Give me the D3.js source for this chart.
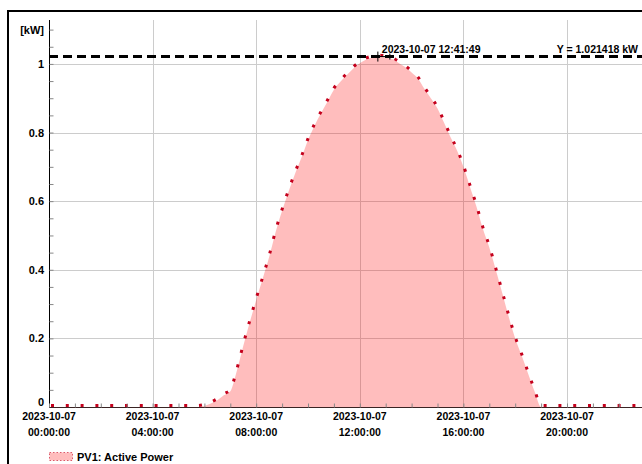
<!DOCTYPE html>
<html lang="en">
  <head>
    <meta charset="utf-8" />
    <title>PV1: Active Power</title>
    <style>
      body {
        margin: 0;
        background: #fff;
      }
      svg {
        display: block;
        font-family: 'Liberation Sans', Arial, sans-serif;
        font-weight: bold;
      }
      .grid line {
        stroke: #cccccc;
        stroke-width: 1;
      }
    </style>
    <script src="https://d3js.org/d3.v7.min.js"></script>
  </head>

  <body>
    <svg width="642" height="464"></svg>

    <script>
      // samples (kW)
      const times = [
        '2023-10-07 00:00:00', '2023-10-07 05:45:00', '2023-10-07 06:00:00',
        '2023-10-07 06:15:00', '2023-10-07 06:30:00', '2023-10-07 06:45:00',
        '2023-10-07 07:00:00', '2023-10-07 07:15:00', '2023-10-07 07:30:00',
        '2023-10-07 07:45:00', '2023-10-07 08:00:00', '2023-10-07 08:15:00',
        '2023-10-07 08:30:00', '2023-10-07 08:45:00', '2023-10-07 09:00:00',
        '2023-10-07 09:15:00', '2023-10-07 09:30:00', '2023-10-07 09:45:00',
        '2023-10-07 10:00:00', '2023-10-07 10:15:00', '2023-10-07 10:30:00',
        '2023-10-07 10:45:00', '2023-10-07 11:00:00', '2023-10-07 11:15:00',
        '2023-10-07 11:30:00', '2023-10-07 11:45:00', '2023-10-07 12:00:00',
        '2023-10-07 12:15:00', '2023-10-07 12:30:00', '2023-10-07 12:41:49',
        '2023-10-07 13:00:00', '2023-10-07 13:15:00', '2023-10-07 13:30:00',
        '2023-10-07 13:45:00', '2023-10-07 14:00:00', '2023-10-07 14:15:00',
        '2023-10-07 14:30:00', '2023-10-07 14:45:00', '2023-10-07 15:00:00',
        '2023-10-07 15:15:00', '2023-10-07 15:30:00', '2023-10-07 15:45:00',
        '2023-10-07 16:00:00', '2023-10-07 16:15:00', '2023-10-07 16:30:00',
        '2023-10-07 16:45:00', '2023-10-07 17:00:00', '2023-10-07 17:15:00',
        '2023-10-07 17:30:00', '2023-10-07 17:45:00', '2023-10-07 18:00:00',
        '2023-10-07 18:15:00', '2023-10-07 18:30:00', '2023-10-07 18:45:00',
        '2023-10-07 19:00:00', '2023-10-08 00:00:00',
      ];
      const power = [
        0, 0, 0.003,
        0.01, 0.02, 0.034,
        0.046, 0.105, 0.178,
        0.247, 0.312, 0.374,
        0.437, 0.51, 0.572,
        0.628, 0.68, 0.727,
        0.778, 0.82, 0.856,
        0.89, 0.925, 0.948,
        0.968, 0.987, 1.002,
        1.013, 1.019, 1.021418,
        1.019, 1.014, 1.003,
        0.991, 0.975, 0.957,
        0.927, 0.899, 0.87,
        0.829, 0.787, 0.748,
        0.7, 0.643, 0.585,
        0.52, 0.465, 0.4,
        0.332, 0.263, 0.2,
        0.15, 0.097, 0.045,
        0, 0,
      ];
      const yTicks = [0, 0.2, 0.4, 0.6, 0.8, 1];
      const seriesName = 'PV1: Active Power';
      const peakTime = '2023-10-07 12:41:49';
      const peakValue = 1.021418;

      const parse = d3.timeParse('%Y-%m-%d %H:%M:%S');
      const data = times.map((t, i) => ({ t: parse(t), v: power[i] }));

      const svg = d3.select('svg');
      const W = 642;
      const mLeft = 49,
        mTop = 20,
        mBottom = 407;

      const x = d3
        .scaleTime()
        .domain([parse('2023-10-07 00:00:00'), parse('2023-10-08 00:00:00')])
        .range([mLeft, mLeft + 24 * 25.9]);
      const y = d3.scaleLinear().domain([0, 1.128]).range([mBottom, mTop]);
      const majorX = x.ticks(d3.timeHour.every(4)).filter((d) => x(d) < W);

      svg
        .append('defs')
        .append('clipPath')
        .attr('id', 'plot')
        .append('rect')
        .attr('x', mLeft)
        .attr('y', mTop - 10)
        .attr('width', W - mLeft)
        .attr('height', mBottom - mTop + 12);

      // frame
      svg
        .append('rect')
        .attr('x', 8)
        .attr('y', 11)
        .attr('width', 700)
        .attr('height', 500)
        .attr('fill', 'none')
        .attr('stroke', '#000')
        .attr('stroke-width', 2);

      // grid
      const grid = svg.append('g').attr('class', 'grid');
      grid
        .selectAll('.gy')
        .data(yTicks.slice(1))
        .join('line')
        .attr('x1', mLeft)
        .attr('x2', W)
        .attr('y1', (d) => Math.round(y(d)) + 0.5)
        .attr('y2', (d) => Math.round(y(d)) + 0.5);
      grid
        .selectAll('.gx')
        .data(majorX.slice(1))
        .join('line')
        .attr('y1', mTop)
        .attr('y2', mBottom)
        .attr('x1', (d) => Math.round(x(d)) + 0.5)
        .attr('x2', (d) => Math.round(x(d)) + 0.5);

      // area + dotted line
      const plot = svg.append('g').attr('clip-path', 'url(#plot)');
      plot
        .append('path')
        .datum(data)
        .attr('fill', 'rgba(255, 0, 0, 0.26)')
        .attr(
          'd',
          d3
            .area()
            .curve(d3.curveMonotoneX)
            .x((d) => x(d.t))
            .y0(y(0))
            .y1((d) => y(d.v)),
        );
      plot
        .append('path')
        .datum(data)
        .attr('fill', 'none')
        .attr('stroke', '#c4001c')
        .attr('stroke-width', 3)
        .attr('stroke-dasharray', '3 11.8')
        .attr('stroke-dashoffset', -2)
        .attr(
          'd',
          d3
            .line()
            .curve(d3.curveMonotoneX)
            .x((d) => x(d.t))
            .y((d) => y(d.v) - 1.5),
        );

      // y axis
      const yAxis = svg
        .append('g')
        .attr('transform', `translate(${mLeft + 0.5},0)`)
        .call(
          d3
            .axisRight(y)
            .tickValues(d3.range(0, 1.11, 0.05))
            .tickSize(4)
            .tickFormat(''),
        );
      yAxis.select('.domain').attr('d', `M0,${mTop}V${mBottom}`).attr('stroke', '#000');
      yAxis.selectAll('.tick line').attr('stroke', '#888');

      svg
        .append('g')
        .selectAll('text')
        .data(yTicks)
        .join('text')
        .attr('x', mLeft - 5)
        .attr('y', (d) => Math.min(y(d) + 4, mBottom - 1))
        .attr('text-anchor', 'end')
        .attr('font-size', 11)
        .text((d) => d3.format('~g')(d));
      svg
        .append('text')
        .attr('x', mLeft - 5)
        .attr('y', y(1.1) + 4)
        .attr('text-anchor', 'end')
        .attr('font-size', 11)
        .text('[kW]');

      // x axis
      const xAxis = svg
        .append('g')
        .attr('transform', `translate(0,${mBottom + 0.5})`)
        .call(
          d3
            .axisTop(x)
            .ticks(d3.timeHour.every(1))
            .tickSize(4)
            .tickFormat(''),
        );
      xAxis.select('.domain').attr('d', `M${mLeft},0H${W}`).attr('stroke', '#3a2424');
      xAxis.selectAll('.tick line').attr('stroke', '#888');

      const xl = svg
        .append('g')
        .attr('font-size', 10.5)
        .attr('text-anchor', 'middle')
        .selectAll('g')
        .data(majorX)
        .join('g')
        .attr('transform', (d) => `translate(${x(d)},0)`);
      xl.append('text').attr('y', 420).text(d3.timeFormat('%Y-%m-%d'));
      xl.append('text').attr('y', 436).text(d3.timeFormat('%H:%M:%S'));

      // peak marker
      const py = y(peakValue);
      const px = x(parse(peakTime));
      svg
        .append('line')
        .attr('x1', mLeft)
        .attr('x2', W)
        .attr('y1', py)
        .attr('y2', py)
        .attr('stroke', '#000')
        .attr('stroke-width', 3)
        .attr('stroke-dasharray', '9 5');
      svg
        .append('path')
        .attr('d', `M${px},${py - 5}V${py + 5}M${px + 12},${py - 3}V${py + 3}M${px},${py}H${px + 12}`)
        .attr('stroke', '#000')
        .attr('stroke-width', 1);
      svg
        .append('text')
        .attr('x', px + 4)
        .attr('y', py - 4)
        .attr('font-size', 10.5)
        .text(d3.timeFormat('%Y-%m-%d %H:%M:%S')(parse(peakTime)));
      svg
        .append('text')
        .attr('x', 638)
        .attr('y', py - 4)
        .attr('font-size', 10.5)
        .attr('text-anchor', 'end')
        .text(`Y = ${peakValue} kW`);

      // legend
      svg
        .append('rect')
        .attr('x', 49.5)
        .attr('y', 452.5)
        .attr('width', 23)
        .attr('height', 8)
        .attr('fill', 'rgba(255, 0, 0, 0.26)')
        .attr('stroke', '#c4001c')
        .attr('stroke-width', 0.6)
        .attr('stroke-dasharray', '1.5 2');
      svg
        .append('text')
        .attr('x', 77)
        .attr('y', 461)
        .attr('font-size', 11)
        .text(seriesName);
    </script>
  </body>
</html>
